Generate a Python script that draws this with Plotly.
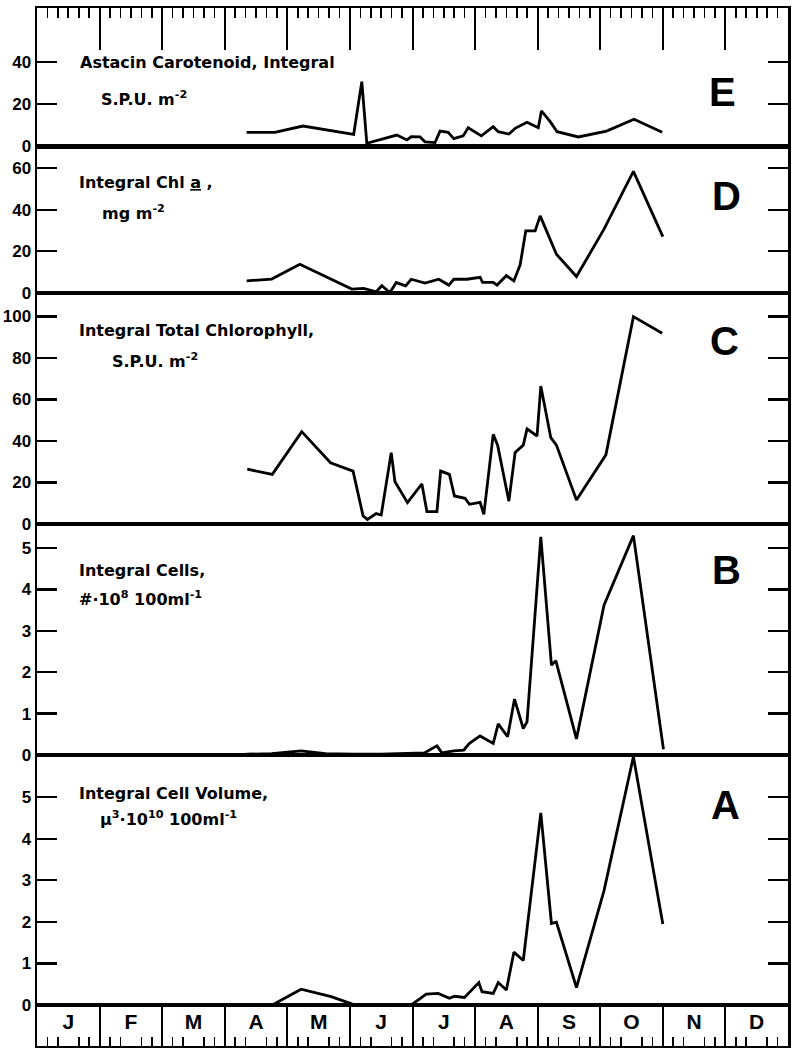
import plotly.graph_objects as go

# ---------------- data (x in month units: 0 = 1 Jan, 12 = 31 Dec) ----------------
months = ["J", "F", "M", "A", "M", "J", "J", "A", "S", "O", "N", "D"]
month_centers = [i + 0.5 for i in range(12)]

e_x = [3.35, 3.80, 4.25, 5.06, 5.19, 5.27, 5.75, 5.91, 5.98, 6.12, 6.20, 6.36, 6.44, 6.57, 6.66,
       6.81, 6.89, 7.10, 7.29, 7.37, 7.54, 7.64, 7.83, 8.01, 8.06, 8.20, 8.31, 8.65, 9.10, 9.54, 9.99]
e_y = [6.5, 6.5, 9.5, 5.5, 30.6, 1.3, 5.2, 2.9, 4.4, 4.3, 2.0, 1.6, 7.1, 6.5, 3.5,
       4.8, 8.7, 4.8, 9.2, 6.8, 5.7, 8.4, 11.3, 8.7, 16.7, 11.6, 6.8, 4.3, 7.1, 12.7, 6.5]

d_x = [3.35, 3.75, 4.20, 5.03, 5.22, 5.42, 5.51, 5.64, 5.74, 5.89, 5.98, 6.20, 6.42, 6.58, 6.66,
       6.87, 7.08, 7.12, 7.29, 7.35, 7.50, 7.62, 7.72, 7.81, 7.96, 8.04, 8.30, 8.62, 9.06, 9.53, 10.00]
d_y = [5.8, 6.7, 13.8, 1.9, 2.2, 0.6, 3.5, 0.2, 5.0, 3.4, 6.6, 4.8, 6.6, 3.8, 6.6,
       6.6, 7.5, 5.1, 5.1, 3.8, 8.3, 5.8, 13.5, 29.8, 29.8, 37.0, 18.6, 7.9, 30.6, 58.3, 27.0]

c_x = [3.36, 3.76, 4.23, 4.69, 5.05, 5.21, 5.28, 5.42, 5.50, 5.66, 5.72, 5.92, 6.15, 6.23, 6.39,
       6.45, 6.59, 6.67, 6.84, 6.91, 7.08, 7.14, 7.29, 7.36, 7.54, 7.64, 7.77, 7.83, 7.99, 8.05,
       8.21, 8.30, 8.62, 9.09, 9.53, 9.99]
c_y = [26.4, 23.9, 44.5, 29.5, 25.5, 3.9, 2.2, 5.0, 4.3, 34.4, 20.4, 10.3, 19.3, 6.0, 6.0,
       25.5, 23.9, 13.5, 12.4, 9.5, 10.4, 4.7, 43.2, 38.0, 11.0, 34.5, 38.0, 45.8, 42.4, 66.5,
       41.6, 38.0, 11.6, 33.3, 99.9, 91.9]

b_x = [3.34, 3.75, 4.22, 4.61, 5.05, 5.50, 6.19, 6.39, 6.47, 6.66, 6.82, 6.91, 7.08, 7.29, 7.37,
       7.52, 7.63, 7.77, 7.83, 8.05, 8.22, 8.29, 8.62, 9.06, 9.53, 10.01]
b_y = [0.02, 0.03, 0.10, 0.03, 0.02, 0.02, 0.05, 0.22, 0.05, 0.10, 0.12, 0.28, 0.46, 0.28, 0.75,
       0.44, 1.35, 0.64, 0.80, 5.27, 2.17, 2.28, 0.39, 3.62, 5.30, 0.14]

a_x = [3.34, 3.76, 4.22, 4.70, 5.04, 5.98, 6.22, 6.41, 6.59, 6.67, 6.83, 7.06, 7.11, 7.29, 7.37,
       7.50, 7.62, 7.77, 8.05, 8.22, 8.30, 8.62, 9.06, 9.53, 10.00]
a_y = [0.0, 0.0, 0.38, 0.20, 0.02, 0.0, 0.26, 0.28, 0.16, 0.21, 0.18, 0.54, 0.32, 0.28, 0.54,
       0.36, 1.27, 1.07, 4.62, 1.96, 1.99, 0.42, 2.75, 5.97, 1.95]

e_ticks = [0, 20, 40]
d_ticks = [0, 20, 40, 60]
c_ticks = [0, 20, 40, 60, 80, 100]
b_ticks = [0, 1, 2, 3, 4, 5]
a_ticks = [0, 1, 2, 3, 4, 5]

# ---------------- layout helpers ----------------
W, H = 794, 1048
ML, MR, MT, MB = 37, 6, 8, 2
PW, PH = W - ML - MR, H - MT - MB


def px(xp):
    return (xp - ML) / PW


def py(yp):
    return (H - MB - yp) / PH


FONT = "Liberation Sans"
TFONT = "DejaVu Sans"
BLACK = "#000000"

fig = go.Figure()

series = [
    ("x2", "y2", a_x, a_y),
    ("x3", "y3", b_x, b_y),
    ("x4", "y4", c_x, c_y),
    ("x5", "y5", d_x, d_y),
    ("x6", "y6", e_x, e_y),
]
for xa, ya, xs, ys in series:
    fig.add_trace(go.Scatter(x=xs, y=ys, xaxis=xa, yaxis=ya, mode="lines",
                             line=dict(color=BLACK, width=2.8), showlegend=False,
                             hoverinfo="skip", cliponaxis=True))

# month labels in the bottom strip
fig.add_trace(go.Scatter(x=month_centers, y=[0.55] * 12, xaxis="x", yaxis="y", mode="text",
                         text=months, textposition="middle center",
                         textfont=dict(family=FONT, size=21, color=BLACK, weight="bold"),
                         showlegend=False, hoverinfo="skip", cliponaxis=False))

# domains (paper fractions)
strip_dom = [0, py(1005)]
a_dom = [py(1005), py(755)]
b_dom = [py(755), py(524)]
c_dom = [py(524), py(293)]
d_dom = [py(293), py(146)]
e_dom = [py(146), 1]

ytick_font = dict(family=FONT, size=17, color=BLACK, weight="bold")


def yax(dom, rng, ticks, anchor):
    return dict(domain=dom, range=rng, anchor=anchor, tickmode="array", tickvals=ticks,
                ticks="inside", ticklen=20, tickwidth=2.2, tickcolor=BLACK,
                showline=True, linewidth=2.5, linecolor=BLACK, mirror="ticks",
                showgrid=False, zeroline=False, tickfont=ytick_font, automargin=False,
                fixedrange=True)


def xax(anchor, **kw):
    d = dict(domain=[0, 1], range=[0, 12], anchor=anchor, showline=True, linewidth=1.6,
             linecolor=BLACK, mirror=True, ticks="", showticklabels=False, showgrid=False,
             zeroline=False, automargin=False, fixedrange=True)
    d.update(kw)
    return d


sixths = [i / 6 for i in range(72) if i % 6 != 0 and i % 6 != 3]
sixths_top = [i / 6 for i in range(72) if i % 6 != 0]

layout = dict(
    width=W, height=H, margin=dict(l=ML, r=MR, t=MT, b=MB, autoexpand=False),
    paper_bgcolor="white", plot_bgcolor="white", template="none", showlegend=False,
    # bottom month strip
    xaxis=xax("y", tickmode="array", tickvals=list(range(13)), showgrid=True,
              gridcolor=BLACK, gridwidth=2, linewidth=2.5,
              minor=dict(tickmode="array", tickvals=sixths, ticks="inside", ticklen=9,
                         tickwidth=1.6, tickcolor=BLACK, showgrid=False)),
    xaxis7=dict(overlaying="x", anchor="y", range=[0, 12], tickmode="array",
                tickvals=month_centers, ticks="inside", ticklen=12, tickwidth=1.6,
                tickcolor=BLACK, showticklabels=False, showline=False, showgrid=False,
                zeroline=False, fixedrange=True),
    yaxis=dict(domain=strip_dom, range=[0, 1], anchor="x", showline=True, linewidth=2.5,
               linecolor=BLACK, mirror=True, ticks="", showticklabels=False,
               showgrid=False, zeroline=False, fixedrange=True),
    xaxis2=xax("y2"),
    xaxis3=xax("y3"),
    xaxis4=xax("y4"),
    xaxis5=xax("y5"),
    xaxis6=xax("y6", side="top", linewidth=2.5, tickmode="array", tickvals=list(range(13)),
               ticks="inside", ticklen=42, tickwidth=2, tickcolor=BLACK,
               minor=dict(tickmode="array", tickvals=sixths_top, ticks="inside", ticklen=10,
                          tickwidth=1.6, tickcolor=BLACK, showgrid=False)),
    yaxis2=yax(a_dom, [0, 6.01], a_ticks, "x2"),
    yaxis3=yax(b_dom, [0, 5.58], b_ticks, "x3"),
    yaxis4=yax(c_dom, [0, 111.3], c_ticks, "x4"),
    yaxis5=yax(d_dom, [0, 70.5], d_ticks, "x5"),
    yaxis6=yax(e_dom, [0, 65.7], e_ticks, "x6"),
)
fig.update_layout(**layout)

lab_font = dict(family=TFONT, size=16, color=BLACK, weight="bold")
big_font = dict(family=FONT, size=40, color=BLACK, weight="bold")

labels = [
    ("Astacin Carotenoid, Integral", 78, 62),
    ("S.P.U. m<sup>-2</sup>", 99, 98),
    ("Integral Chl <u>a</u> ,", 77, 183),
    ("mg m<sup>-2</sup>", 100, 212),
    ("Integral Total Chlorophyll,", 77, 331),
    ("S.P.U. m<sup>-2</sup>", 110, 360),
    ("Integral Cells,", 77, 571),
    ("#·10<sup>8</sup> 100ml<sup>-1</sup>", 77, 598),
    ("Integral Cell Volume,", 77, 793),
    ("µ<sup>3</sup>·10<sup>10</sup> 100ml<sup>-1</sup>", 98, 818),
]
for txt, xp, yp in labels:
    fig.add_annotation(text=txt, x=px(xp), y=py(yp), xref="paper", yref="paper",
                       xanchor="left", yanchor="middle", showarrow=False, font=lab_font)

letters = [("E", 722, 92), ("D", 726, 196), ("C", 724, 341), ("B", 726, 570), ("A", 725, 805)]
for txt, xp, yp in letters:
    fig.add_annotation(text=txt, x=px(xp), y=py(yp), xref="paper", yref="paper",
                       xanchor="center", yanchor="middle", showarrow=False, font=big_font)

fig.write_html("out.html", config={"displayModeBar": False, "staticPlot": True},
               post_script="document.body.style.margin='0';")
